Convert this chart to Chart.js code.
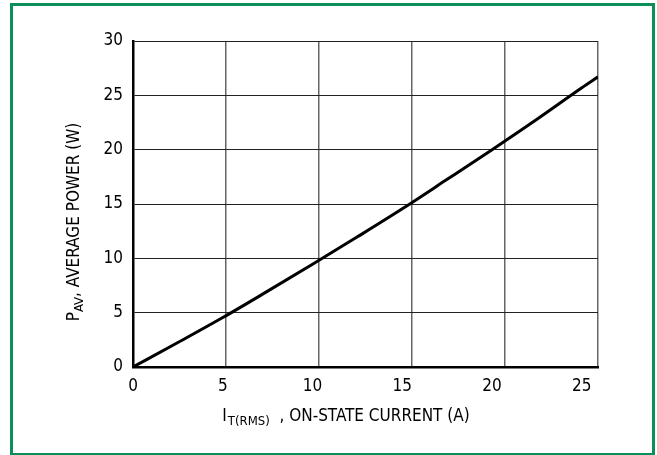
<!DOCTYPE html>
<html>
<head>
<meta charset="utf-8">
<script src="https://cdn.jsdelivr.net/npm/chart.js@4.4.1/dist/chart.umd.min.js"></script>
<style>
  html, body { margin: 0; padding: 0; background: #fff; }
  #wrap { width: 657px; height: 455px; }
</style>
</head>
<body>
<div id="wrap"><canvas id="powerChart" width="657" height="455"></canvas></div>
<script>
// datos
const currentA = [0, 2.5, 5, 7.5, 10, 12.5, 15, 17.5, 20, 22.5, 25, 25.9];
const powerW   = [0, 2.25, 4.55, 6.98, 9.45, 11.98, 14.56, 17.27, 20.0, 22.8, 25.7, 26.7];
const xTickValues = [0, 5, 10, 15, 20, 25];
const yTickValues = [0, 5, 10, 15, 20, 25, 30];

const FONT = '"Liberation Sans Narrow", "DejaVu Sans", sans-serif';
const STRETCH = 'condensed'; // fuente estrecha como el original

function font(size) {
    return STRETCH + ' ' + size + 'px ' + FONT;
}

// dibuja varias piezas de texto seguidas (para subíndices)
function drawRuns(ctx, runs) {
    let total = 0;
    runs.forEach(r => { ctx.font = font(r.size); r.w = ctx.measureText(r.text).width; total += r.w + (r.gap || 0); });
    return total;
}

// marco verde + títulos con subíndices
const decorPlugin = {
    id: 'decor',
    beforeDraw(chart) {
        const ctx = chart.ctx;
        ctx.save();
        ctx.fillStyle = '#fff';
        ctx.fillRect(0, 0, chart.width, chart.height);
        ctx.strokeStyle = '#0b8f5a';
        ctx.lineWidth = 3;
        ctx.strokeRect(11.5, 4.5, 642, 450);
        ctx.restore();
    },
    afterDraw(chart) {
        const ctx = chart.ctx;
        ctx.save();
        ctx.fillStyle = '#000';
        ctx.textBaseline = 'alphabetic';
        ctx.textAlign = 'left';

        // eje x
        const xRuns = [
            { text: 'I', size: 17, dy: 0, gap: 1 },
            { text: 'T(RMS)', size: 13, dy: 4, gap: 0 },
            { text: '  , ON-STATE CURRENT (A)', size: 17, dy: 0, gap: 0 }
        ];
        const xw = drawRuns(ctx, xRuns);
        let x = 346 - xw / 2;
        xRuns.forEach(r => {
            ctx.font = font(r.size);
            ctx.fillText(r.text, x, 421 + r.dy);
            x += r.w + (r.gap || 0);
        });

        // eje y
        const yRuns = [
            { text: 'P', size: 17, dy: 0 },
            { text: 'AV', size: 13, dy: 4 },
            { text: ', AVERAGE POWER (W)', size: 17, dy: 0 }
        ];
        const yw = drawRuns(ctx, yRuns);
        ctx.translate(79, 222 + yw / 2);
        ctx.rotate(-Math.PI / 2);
        let y = 0;
        yRuns.forEach(r => {
            ctx.font = font(r.size);
            ctx.fillText(r.text, y, r.dy);
            y += r.w;
        });
        ctx.restore();
    }
};

const tickFont = { family: FONT, size: 17, weight: STRETCH };

const ctx = document.getElementById('powerChart');
new Chart(ctx, {
    type: 'line',
    data: {
        datasets: [{
            data: currentA.map((v, i) => ({ x: v, y: powerW[i] })),
            borderColor: '#000',
            borderWidth: 3,
            pointRadius: 0,
            fill: false,
            cubicInterpolationMode: 'monotone',
            xAxisID: 'x',
            yAxisID: 'y'
        }]
    },
    options: {
        responsive: false,
        animation: false,
        layout: { padding: { left: 0, top: 41, right: 59, bottom: 0 } },
        plugins: {
            legend: { display: false },
            tooltip: { enabled: false }
        },
        scales: {
            x: {
                type: 'linear',
                position: 'bottom',
                min: 0,
                max: 25.9,
                afterBuildTicks: (axis) => { axis.ticks = xTickValues.map(v => ({ value: v })); },
                afterFit: (axis) => { axis.height = 88; },
                grid: { display: false, drawTicks: false },
                border: { display: true, color: '#000', width: 2.5 },
                ticks: {
                    color: '#000',
                    padding: 9,
                    maxRotation: 0,
                    font: tickFont
                }
            },
            xg: {
                type: 'linear',
                position: 'bottom',
                min: 0,
                max: 25,
                afterBuildTicks: (axis) => { axis.ticks = xTickValues.map(v => ({ value: v })); },
                afterFit: (axis) => { axis.height = 0; },
                grid: { color: '#666', lineWidth: 1.5, drawTicks: false },
                border: { display: false },
                ticks: { display: false }
            },
            y: {
                type: 'linear',
                min: 0,
                max: 30,
                afterBuildTicks: (axis) => { axis.ticks = yTickValues.map(v => ({ value: v })); },
                afterFit: (axis) => { axis.width = 133; },
                grid: { color: '#222', lineWidth: 1, drawTicks: false },
                border: { display: true, color: '#000', width: 2.5 },
                ticks: {
                    color: '#000',
                    padding: 10,
                    font: tickFont
                }
            }
        }
    },
    plugins: [decorPlugin]
});
</script>
</body>
</html>
